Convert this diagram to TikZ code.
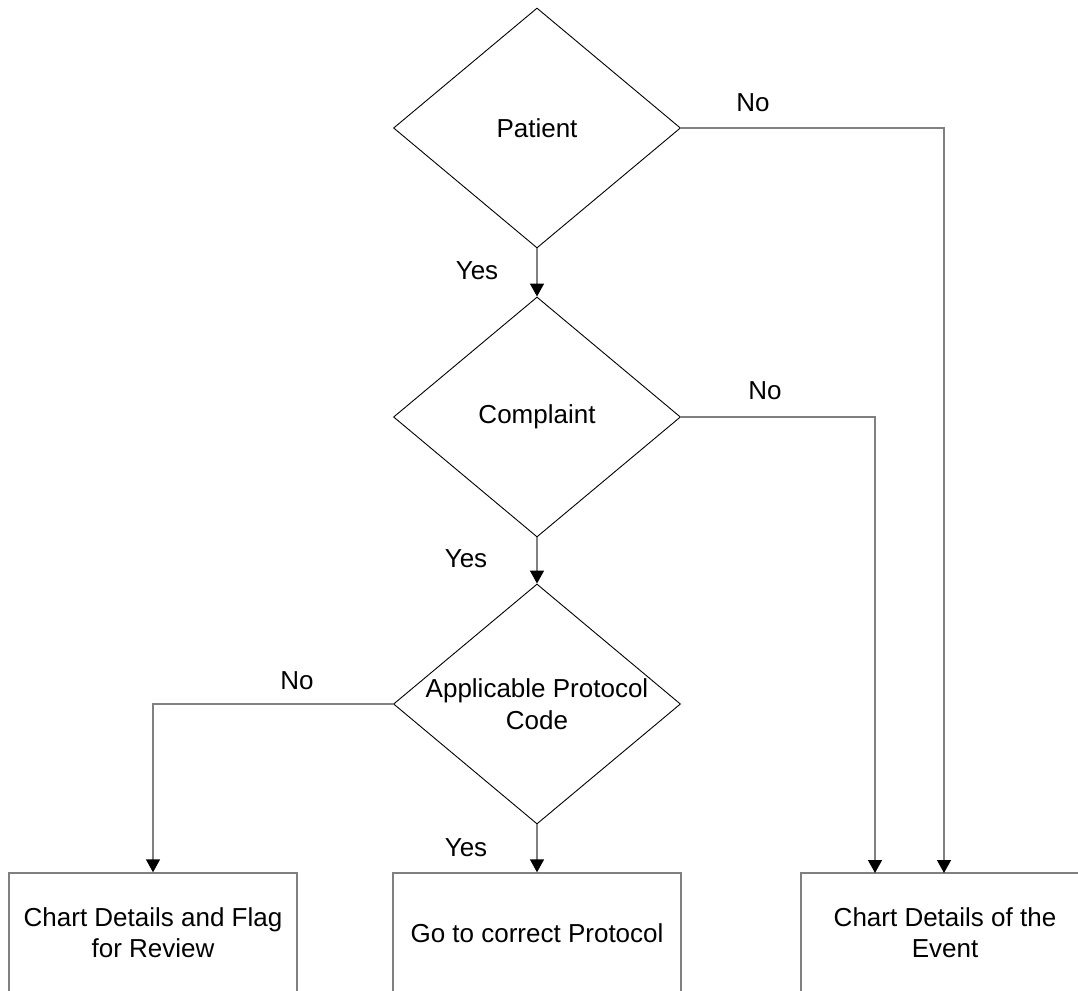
\documentclass[tikz,border=0pt]{standalone}
\usepackage{fontspec}
\setmainfont{Liberation Sans}
\usetikzlibrary{shapes.geometric,arrows.meta}
\definecolor{linegray}{HTML}{808080}
\tikzset{
  dec/.style={diamond, draw=black, line width=0.9pt, inner sep=0pt,
    minimum width=287pt, minimum height=240pt, fill=white},
  box/.style={rectangle, draw=linegray, line width=1.4pt, minimum width=288pt,
    minimum height=120pt, align=center, inner sep=0pt, font=\fontsize{26}{31}\selectfont},
  conn/.style={draw=linegray, line width=1.4pt, -{Triangle[length=13pt,width=14pt,color=black]}},
  lab/.style={font=\fontsize{26}{31}\selectfont, inner sep=0pt},
  dtext/.style={label={[align=center, font=\fontsize{26}{32.5}\selectfont]center:#1}}
}
\begin{document}
\begin{tikzpicture}[x=1pt,y=-1pt]
\useasboundingbox (0,0) rectangle (1078,990);
\fill[white] (0,0) rectangle (1078,990);
\node[dec, dtext={Patient}] (p) at (537,128) {};
\node[dec, dtext={Complaint}] (c) at (537,417) {};
\node[dec, dtext={Applicable Protocol\\Code}] (a) at (537,704) {};
\node[box] (b1) at (153,933) {Chart Details and Flag\\for Review};
\node[box] (b2) at (537,933) {Go to correct Protocol};
\node[box] (b3) at (945,933) {Chart Details of the\\Event};
\coordinate (b3a) at (875,873);
\coordinate (b3b) at (944,873);
\draw[conn] (p.south) -- (c.north);
\draw[conn] (c.south) -- (a.north);
\draw[conn] (a.south) -- (b2.north);
\draw[conn] (p.east) -| (b3b);
\draw[conn] (c.east) -| (b3a);
\draw[conn] (a.west) -| (b1.north);
\node[lab] (l1) at (753,103) {No};
\node[lab] (l2) at (477,271) {Yes};
\node[lab] (l3) at (765,391) {No};
\node[lab] (l4) at (466,559) {Yes};
\node[lab] (l5) at (297,681) {No};
\node[lab] (l6) at (466,848) {Yes};
\end{tikzpicture}
\end{document}
